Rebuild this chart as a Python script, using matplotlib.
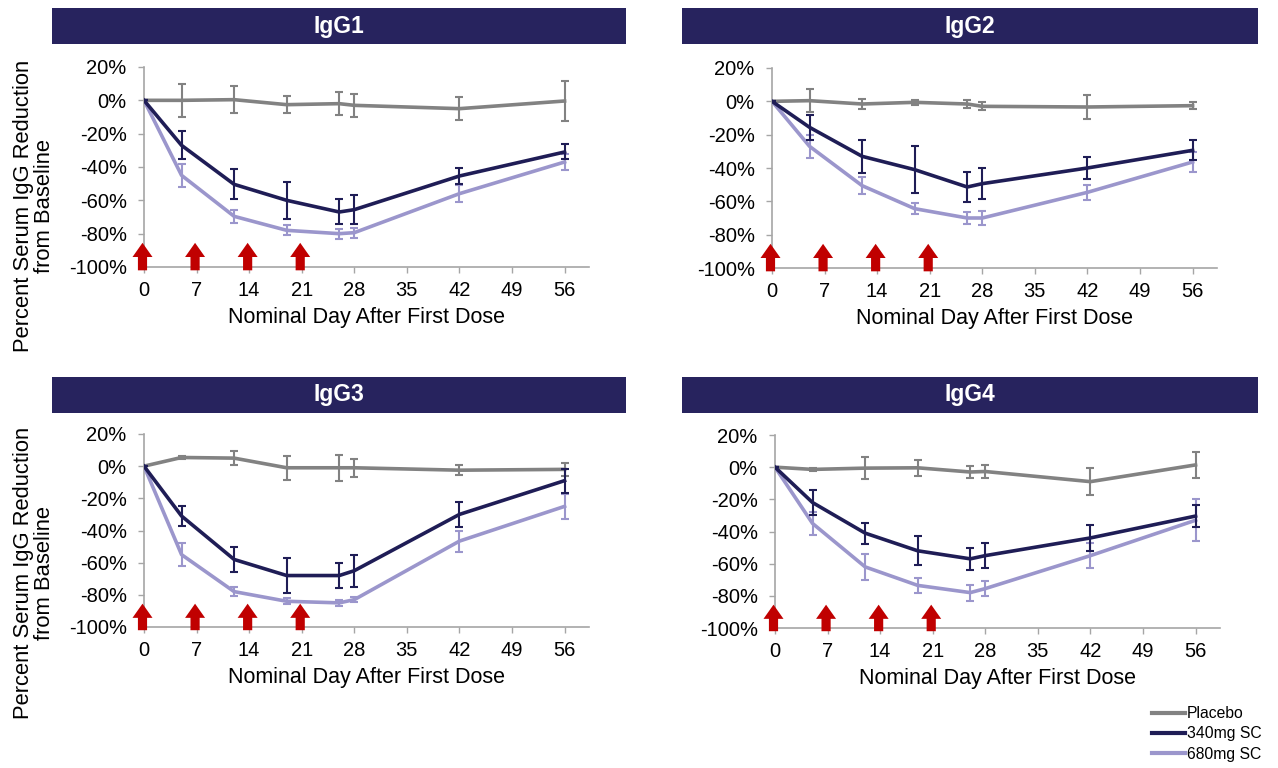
import matplotlib
matplotlib.use("Agg")
import matplotlib.pyplot as plt
from matplotlib.patches import Rectangle
from matplotlib.lines import Line2D

plt.rcParams['font.family'] = ['Liberation Sans', 'DejaVu Sans']

W, H = 1278, 768

# ------------ Data -----------------------------------------
days = [0, 5, 12, 19, 26, 28, 42, 56]
dose_days = [0, 7, 14, 21]
panels = ['IgG1', 'IgG2', 'IgG3', 'IgG4']
series_names = ['Placebo', '340mg SC', '680mg SC']

placebo_mean = {
    'IgG1': [0, 0, 0.4, -2.6, -2, -3, -5, -0.4],
    'IgG2': [0, 0.4, -1.6, -0.6, -1.6, -3, -3.4, -2.6],
    'IgG3': [0, 5.4, 5, -1, -1, -1, -2.5, -2],
    'IgG4': [0, -1.4, -0.6, -0.4, -3, -2.7, -9, 1.4],
}
placebo_err = {
    'IgG1': [0, 10, 8, 5, 7, 7, 7, 12],
    'IgG2': [0, 7, 3, 1.5, 2.5, 2.5, 7, 2],
    'IgG3': [0, 1, 4.5, 7.5, 8, 5.5, 3, 4],
    'IgG4': [0, 1, 7, 5, 4, 4, 8.5, 8],
}
d340_mean = {
    'IgG1': [0, -27, -50.4, -60, -67, -65.6, -45.4, -31],
    'IgG2': [0, -15.6, -33, -41, -51.4, -49.4, -40, -29.4],
    'IgG3': [0, -31, -58, -68, -68, -65, -30, -9],
    'IgG4': [0, -22, -41, -52, -57, -55, -44, -30.4],
}
d340_err = {
    'IgG1': [0, 8.5, 9, 11, 7.5, 8.5, 5, 4.5],
    'IgG2': [0, 7.5, 10, 14, 9, 9.5, 6.5, 6],
    'IgG3': [0, 6, 8, 11, 8, 10, 8, 7.5],
    'IgG4': [0, 8, 6.5, 9, 7, 8, 8, 7],
}
d680_mean = {
    'IgG1': [0, -45, -69.6, -78, -80, -79.4, -56, -37],
    'IgG2': [0, -27, -50.6, -64.4, -70, -70, -54.6, -36.4],
    'IgG3': [0, -55, -78, -84, -85, -83, -46.6, -25],
    'IgG4': [0, -35, -62, -73.5, -78, -75.5, -55, -33],
}
d680_err = {
    'IgG1': [0, 7, 4, 3, 3, 3, 5, 5],
    'IgG2': [0, 7, 5, 3.5, 3.5, 4, 4.5, 6],
    'IgG3': [0, 7, 3, 2, 2, 1.5, 6.5, 8],
    'IgG4': [0, 7, 8, 4.5, 5, 4.5, 8, 13],
}

# ------------ Styles -----------------
C_PLACEBO = '#828282'
C_340 = '#1f1d56'
C_680 = '#9b96cc'
C_BAR = '#27235e'
C_ARROW = '#c00000'
C_AXIS = '#a6a6a6'

# panel geometry in pixels: (left, top, bottom), bar (left, right, top, bottom)
axes_px = {
    'IgG1': (144, 67, 267),
    'IgG2': (772, 68, 268),
    'IgG3': (144, 434, 627),
    'IgG4': (775, 435, 628),
}
bars_px = {
    'IgG1': (52, 626, 8, 44),
    'IgG2': (682, 1258, 8, 44),
    'IgG3': (52, 626, 377, 413),
    'IgG4': (682, 1258, 377, 413),
}
XMAX = 59.2
PX_PER_DAY = 7.51

fig = plt.figure(figsize=(W / 100, H / 100), dpi=100)

for name in panels:
    left, top, bottom = axes_px[name]
    width = XMAX * PX_PER_DAY
    ax = fig.add_axes([left / W, 1 - bottom / H, width / W, (bottom - top) / H])

    ax.errorbar(days, placebo_mean[name], yerr=placebo_err[name], color=C_PLACEBO,
                lw=2.6, elinewidth=1.5, capsize=3, capthick=1.5, zorder=3)
    ax.errorbar(days, d680_mean[name], yerr=d680_err[name], color=C_680,
                lw=2.6, elinewidth=1.5, capsize=3, capthick=1.5, zorder=4)
    ax.errorbar(days, d340_mean[name], yerr=d340_err[name], color=C_340,
                lw=2.6, elinewidth=1.5, capsize=3, capthick=1.5, zorder=5)

    # dose arrows
    for d in dose_days:
        ax.annotate('', xy=(d - 0.2, -85.5), xytext=(d - 0.2, -102),
                    arrowprops=dict(arrowstyle='simple,head_length=0.85,head_width=1.2,tail_width=0.55',
                                    color=C_ARROW, lw=0, mutation_scale=12,
                                    shrinkA=0, shrinkB=0),
                    annotation_clip=False, zorder=6)

    ax.set_xlim(0, XMAX)
    ax.set_ylim(-100, 20)
    ax.set_xticks(range(0, 57, 7))
    ax.set_yticks(range(-100, 21, 20))
    ax.set_yticklabels(['%d%%' % v for v in range(-100, 21, 20)])
    for s in ['top', 'right']:
        ax.spines[s].set_visible(False)
    for s in ['left', 'bottom']:
        ax.spines[s].set_color(C_AXIS)
        ax.spines[s].set_linewidth(1.2)
    ax.tick_params(axis='both', colors=C_AXIS, length=4, width=1, labelcolor='black',
                   labelsize=14.5)
    ax.tick_params(axis='y', pad=8.5)
    ax.tick_params(axis='x', pad=6)
    ax.set_xlabel('Nominal Day After First Dose', fontsize=15.5, labelpad=5)
    if name in ('IgG1', 'IgG3'):
        fig.text(34 / W, 1 - (top + 139) / H, 'Percent Serum IgG Reduction\nfrom Baseline',
                 rotation=90, fontsize=15.8, ha='center', va='center', linespacing=0.95)

    # header bar
    bl, br, bt, bb = bars_px[name]
    fig.add_artist(Rectangle((bl / W, 1 - bb / H), (br - bl) / W, (bb - bt) / H,
                             transform=fig.transFigure, facecolor=C_BAR, edgecolor='none'))
    fig.text((bl + br) / 2 / W, 1 - (bt + bb) / 2 / H, name, color='white',
             fontsize=16.5, fontweight='bold', ha='center', va='center')

handles = [Line2D([], [], color=c, lw=3) for c in (C_PLACEBO, C_340, C_680)]
fig.legend(handles, series_names, loc='upper left', bbox_to_anchor=(1152 / W, 1 - 706 / H),
           frameon=False, fontsize=11.3, handlelength=2.1, handletextpad=0.12,
           labelspacing=0.35, borderaxespad=0, borderpad=0)

fig.savefig('out.png', dpi=100)
